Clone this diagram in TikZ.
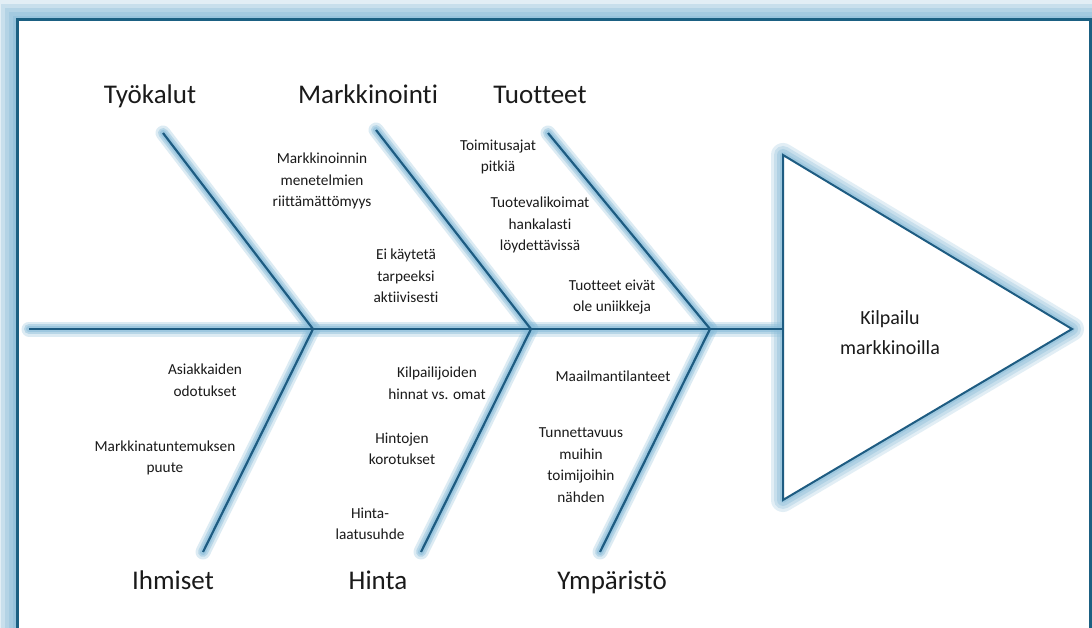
\documentclass[tikz,border=0pt]{standalone}
\usepackage{fontspec}
\setmainfont{Carlito}[Ligatures={NoCommon}]
\definecolor{bone}{RGB}{30,92,130}
\definecolor{halo}{RGB}{140,190,218}
\definecolor{framedark}{RGB}{27,96,130}
\definecolor{ink}{RGB}{26,26,26}
\begin{document}
\begin{tikzpicture}[x=1pt,y=-1pt,
  core/.style={bone, line width=2.2pt},
  lbl/.style={text=ink, align=center, inner sep=0pt, font=\fontsize{15.3}{21.5}\selectfont},
  cat/.style={text=ink, inner sep=0pt, anchor=base, font=\fontsize{27}{30}\selectfont},
  head/.style={text=ink, align=center, inner sep=0pt, font=\fontsize{20}{30}\selectfont},
]
\useasboundingbox (0,0) rectangle (1092,628);

% outer frame with soft halo
\begin{scope}
  \clip (0,0) rectangle (1092,628);
  \fill[white] (0,0) rectangle (1092,628);
  \foreach \w/\o in {40/0.25,32/0.3,24/0.35,16/0.4,8/0.5}
    \draw[halo, line width=\w pt, opacity=\o] (17,20) rectangle (1090,660);
  \fill[white] (17,20) rectangle (1090,660);
  \draw[framedark, line width=3pt] (17,20) rectangle (1090,660);
\end{scope}

% spine, junctions and bone ends
\coordinate (tail) at (29,329);
\coordinate (j1) at (313,329);
\coordinate (j2) at (531,329);
\coordinate (j3) at (710,329);
\coordinate (t1) at (163,133);
\coordinate (t2) at (376,130);
\coordinate (t3) at (548,133);
\coordinate (b1) at (203,552);
\coordinate (b2) at (421,552);
\coordinate (b3) at (600,552);
\coordinate (hA) at (783,155);
\coordinate (hB) at (1072,329);
\coordinate (hC) at (783,500);
\coordinate (hin) at (783,329);

% wider halo around the head triangle
\foreach \w/\o in {24/0.25,18/0.3,12/0.4,6/0.5}
  \draw[halo, line width=\w pt, opacity=\o, line cap=round, line join=round]
    (hA) -- (hB) -- (hC) -- cycle;

% halo beneath spine and bones
\foreach \w/\o in {15/0.3,10/0.45,6/0.6}{
  \foreach \a/\b in {tail/hin,t1/j1,t2/j2,t3/j3,j1/b1,j2/b2,j3/b3}
    \draw[halo, line width=\w pt, opacity=\o, line cap=round] (\a) -- (\b);
}

% head triangle
\filldraw[fill=white, draw=bone, line width=2pt, line join=miter] (hA) -- (hB) -- (hC) -- cycle;
\node[head] (effect) at (890,333) {Kilpailu\\markkinoilla};

% spine and bones
\draw[core] (tail) -- (hin);
\foreach \a/\b in {t1/j1,t2/j2,t3/j3,j1/b1,j2/b2,j3/b3}
  \draw[core] (\a) -- (\b);

% category titles
\node[cat] (tyokalut) at (150,104) {Työkalut};
\node[cat] (markkinointi) at (368,104) {Markkinointi};
\node[cat] (tuotteet) at (540,104) {Tuotteet};
\node[cat] (ihmiset) at (173,589) {Ihmiset};
\node[cat] (hinta) at (378,589) {Hinta};
\node[cat] (ymparisto) at (612,589) {Ympäristö};

% causes
\node[lbl] (c1) at (322,181) {Markkinoinnin\\menetelmien\\riittämättömyys};
\node[lbl] (c2) at (406,276) {Ei käytetä\\tarpeeksi\\aktiivisesti};
\node[lbl] (c3) at (498,157) {Toimitusajat\\pitkiä};
\node[lbl] (c4) at (540,225) {Tuotevalikoimat\\hankalasti\\löydettävissä};
\node[lbl] (c5) at (612,297) {Tuotteet eivät\\ole uniikkeja};
\node[lbl] (c6) at (205,380) {Asiakkaiden\\odotukset};
\node[lbl] (c7) at (165,458) {Markkinatuntemuksen\\puute};
\node[lbl] (c8) at (437,383) {Kilpailijoiden\\hinnat vs. omat};
\node[lbl] (c9) at (402,449) {Hintojen\\korotukset};
\node[lbl] (c10) at (370,524) {Hinta-\\laatusuhde};
\node[lbl] (c11) at (613,376) {Maailmantilanteet};
\node[lbl] (c12) at (581,465) {Tunnettavuus\\muihin\\toimijoihin\\nähden};
\end{tikzpicture}
\end{document}
